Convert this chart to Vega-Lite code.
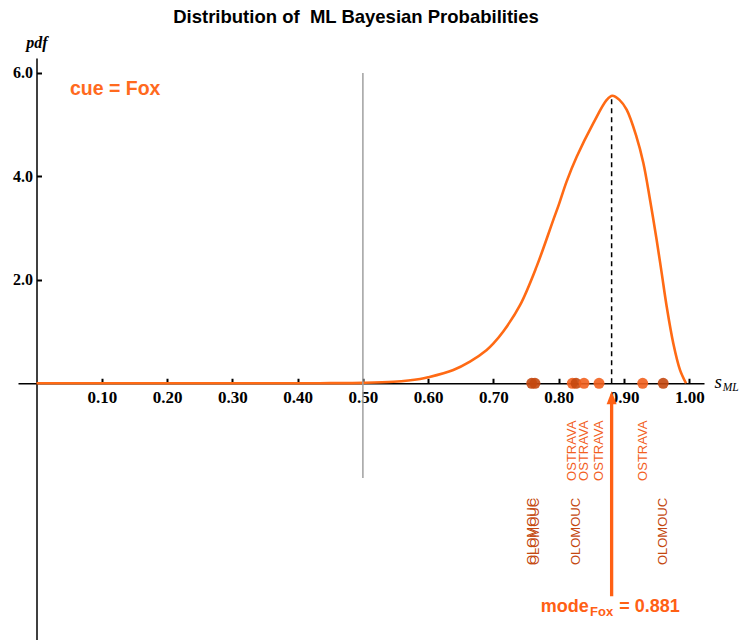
{
  "$schema": "https://vega.github.io/schema/vega-lite/v6.json",
  "autosize": "none",
  "width": 686,
  "height": 582,
  "padding": {"left": 18, "top": 58, "right": 42, "bottom": 0},
  "background": "white",
  "title": {
    "text": "Distribution of \u00a0ML Bayesian Probabilities",
    "font": "Liberation Sans",
    "fontSize": 18.5,
    "fontWeight": "bold",
    "color": "black",
    "anchor": "middle",
    "frame": "group",
    "dx": -5,
    "offset": 8
  },
  "config": {"view": {"stroke": null}},
  "data": {"values": [{}]},
  "datasets": {
    "pdf": [
      {"x": 0.0, "y": 0.0},
      {"x": 0.1, "y": 0.0},
      {"x": 0.2, "y": 0.0},
      {"x": 0.3, "y": 0.0},
      {"x": 0.4, "y": 0.0},
      {"x": 0.45, "y": 0.002},
      {"x": 0.5, "y": 0.008},
      {"x": 0.547, "y": 0.03},
      {"x": 0.5875, "y": 0.083},
      {"x": 0.6, "y": 0.116},
      {"x": 0.6385, "y": 0.257},
      {"x": 0.664, "y": 0.418},
      {"x": 0.6897, "y": 0.644},
      {"x": 0.7, "y": 0.77},
      {"x": 0.715, "y": 1.0},
      {"x": 0.7407, "y": 1.51},
      {"x": 0.7662, "y": 2.26},
      {"x": 0.7917, "y": 3.16},
      {"x": 0.8, "y": 3.45},
      {"x": 0.812, "y": 3.9},
      {"x": 0.8275, "y": 4.38},
      {"x": 0.853, "y": 5.03},
      {"x": 0.8735, "y": 5.48},
      {"x": 0.882, "y": 5.56},
      {"x": 0.893, "y": 5.48},
      {"x": 0.904, "y": 5.29},
      {"x": 0.919, "y": 4.77},
      {"x": 0.9296, "y": 4.26},
      {"x": 0.9398, "y": 3.55},
      {"x": 0.95, "y": 2.77},
      {"x": 0.9577, "y": 2.13},
      {"x": 0.9654, "y": 1.48},
      {"x": 0.9755, "y": 0.77},
      {"x": 0.9857, "y": 0.26},
      {"x": 0.995, "y": 0.0}
    ],
    "obs": [
      {"x": 0.7586, "city": "OLOMOUC"},
      {"x": 0.7636, "city": "OLOMOUC"},
      {"x": 0.8208, "city": "OSTRAVA"},
      {"x": 0.8265, "city": "OLOMOUC"},
      {"x": 0.8387, "city": "OSTRAVA"},
      {"x": 0.8617, "city": "OSTRAVA"},
      {"x": 0.9286, "city": "OSTRAVA"},
      {"x": 0.96, "city": "OLOMOUC"}
    ]
  },
  "layer": [
    {
      "data": {"name": "pdf"},
      "mark": {"type": "line", "color": "#ff6a14", "strokeWidth": 2.6, "interpolate": "catmull-rom"},
      "encoding": {
        "x": {
          "field": "x",
          "type": "quantitative",
          "scale": {"domain": [-0.0283, 1.0225], "nice": false, "zero": false},
          "axis": {
            "orient": "bottom",
            "offset": -256.75,
            "values": [0.1, 0.2, 0.3, 0.4, 0.5, 0.6, 0.7, 0.8, 0.9, 1.0],
            "format": ".2f",
            "title": null,
            "grid": false,
            "domainColor": "black",
            "domainWidth": 1.5,
            "tickColor": "black",
            "tickWidth": 2,
            "tickSize": -5,
            "labelPadding": 11,
            "labelFont": "Liberation Serif",
            "labelFontWeight": "bold",
            "labelFontSize": 17,
            "labelColor": "black",
            "labelFlush": false,
            "labelOverlap": false
          }
        },
        "y": {
          "field": "y",
          "type": "quantitative",
          "scale": {"domain": [-4.965, 6.29], "nice": false, "zero": false},
          "axis": {
            "orient": "left",
            "offset": -18.5,
            "values": [2, 4, 6],
            "format": ".1f",
            "title": "pdf",
            "titleAngle": 0,
            "titleX": 0,
            "titleY": -16,
            "titleAlign": "center",
            "titleBaseline": "middle",
            "titleFont": "Liberation Serif",
            "titleFontStyle": "italic",
            "titleFontWeight": "bold",
            "titleFontSize": 16,
            "titleColor": "black",
            "grid": false,
            "domainColor": "black",
            "domainWidth": 1.5,
            "tickColor": "black",
            "tickWidth": 2,
            "tickSize": -5,
            "labelPadding": 9,
            "labelFont": "Liberation Serif",
            "labelFontWeight": "bold",
            "labelFontSize": 16,
            "labelColor": "black"
          }
        }
      }
    },
    {
      "mark": {"type": "rule", "color": "#a0a0a0", "strokeWidth": 1.5},
      "encoding": {
        "x": {"datum": 0.5, "type": "quantitative", "scale": {"domain": [-0.0283, 1.0225], "nice": false, "zero": false}},
        "y": {"datum": -1.83, "type": "quantitative", "scale": {"domain": [-4.965, 6.29], "nice": false, "zero": false}},
        "y2": {"datum": 6.0}
      }
    },
    {
      "mark": {"type": "rule", "color": "black", "strokeWidth": 1.5, "strokeDash": [5, 4]},
      "encoding": {
        "x": {"datum": 0.881, "type": "quantitative", "scale": {"domain": [-0.0283, 1.0225], "nice": false, "zero": false}},
        "y": {"datum": 0, "type": "quantitative", "scale": {"domain": [-4.965, 6.29], "nice": false, "zero": false}},
        "y2": {"datum": 5.56}
      }
    },
    {
      "data": {"name": "obs"},
      "mark": {"type": "point", "filled": true, "size": 120, "opacity": 0.9},
      "encoding": {
        "x": {"field": "x", "type": "quantitative", "scale": {"domain": [-0.0283, 1.0225], "nice": false, "zero": false}, "axis": {"title": null}},
        "y": {"datum": 0, "type": "quantitative", "scale": {"domain": [-4.965, 6.29], "nice": false, "zero": false}},
        "color": {
          "field": "city",
          "type": "nominal",
          "scale": {"domain": ["OLOMOUC", "OSTRAVA"], "range": ["#c4480f", "#f2601e"]},
          "legend": null
        }
      }
    },
    {
      "data": {"name": "obs"},
      "transform": [{"filter": "datum.city === 'OSTRAVA'"}],
      "mark": {"type": "text", "angle": 270, "align": "center", "baseline": "middle", "font": "Liberation Sans", "fontSize": 13},
      "encoding": {
        "x": {"field": "x", "type": "quantitative", "scale": {"domain": [-0.0283, 1.0225], "nice": false, "zero": false}, "axis": {"title": null}},
        "y": {"datum": -1.306, "type": "quantitative", "scale": {"domain": [-4.965, 6.29], "nice": false, "zero": false}},
        "text": {"field": "city"},
        "color": {"field": "city", "type": "nominal", "legend": null}
      }
    },
    {
      "data": {"name": "obs"},
      "transform": [{"filter": "datum.city === 'OLOMOUC'"}],
      "mark": {"type": "text", "angle": 270, "align": "center", "baseline": "middle", "font": "Liberation Sans", "fontSize": 13},
      "encoding": {
        "x": {"field": "x", "type": "quantitative", "scale": {"domain": [-0.0283, 1.0225], "nice": false, "zero": false}, "axis": {"title": null}},
        "y": {"datum": -2.867, "type": "quantitative", "scale": {"domain": [-4.965, 6.29], "nice": false, "zero": false}},
        "text": {"field": "city"},
        "color": {"field": "city", "type": "nominal", "legend": null}
      }
    },
    {
      "mark": {"type": "rule", "color": "#ff6014", "strokeWidth": 3.3},
      "encoding": {
        "x": {"datum": 0.881, "type": "quantitative"},
        "y": {"datum": -4.12, "type": "quantitative"},
        "y2": {"datum": -0.33}
      }
    },
    {
      "mark": {"type": "point", "filled": true, "opacity": 1, "color": "#ff6014", "size": 100, "shape": "M0,-1.3L-1,1.3L1,1.3Z"},
      "encoding": {
        "x": {"datum": 0.881, "type": "quantitative"},
        "y": {"datum": -0.278, "type": "quantitative"}
      }
    },
    {
      "mark": {"type": "text", "text": "cue = Fox", "align": "left", "baseline": "middle", "font": "Liberation Sans", "fontSize": 19.5, "fontWeight": "bold", "color": "#ff6a1e"},
      "encoding": {
        "x": {"datum": 0.0513, "type": "quantitative"},
        "y": {"datum": 5.69, "type": "quantitative"}
      }
    },
    {
      "mark": {"type": "text", "text": "s", "align": "left", "baseline": "alphabetic", "font": "Liberation Serif", "fontSize": 19, "fontStyle": "italic", "color": "black"},
      "encoding": {
        "x": {"datum": 1.0385, "type": "quantitative"},
        "y": {"datum": -0.097, "type": "quantitative"}
      }
    },
    {
      "mark": {"type": "text", "text": "ML", "align": "left", "baseline": "alphabetic", "font": "Liberation Serif", "fontSize": 11.5, "fontStyle": "italic", "color": "black"},
      "encoding": {
        "x": {"datum": 1.0512, "type": "quantitative"},
        "y": {"datum": -0.143, "type": "quantitative"}
      }
    },
    {
      "mark": {"type": "text", "text": "mode", "align": "left", "baseline": "alphabetic", "font": "Liberation Sans", "fontSize": 18, "fontWeight": "bold", "color": "#ff6014"},
      "encoding": {
        "x": {"datum": 0.7724, "type": "quantitative"},
        "y": {"datum": -4.429, "type": "quantitative"}
      }
    },
    {
      "mark": {"type": "text", "text": "Fox", "align": "left", "baseline": "alphabetic", "font": "Liberation Sans", "fontSize": 13, "fontWeight": "bold", "color": "#ff6014"},
      "encoding": {
        "x": {"datum": 0.8479, "type": "quantitative"},
        "y": {"datum": -4.501, "type": "quantitative"}
      }
    },
    {
      "mark": {"type": "text", "text": "= 0.881", "align": "left", "baseline": "alphabetic", "font": "Liberation Sans", "fontSize": 18, "fontWeight": "bold", "color": "#ff6014"},
      "encoding": {
        "x": {"datum": 0.8928, "type": "quantitative"},
        "y": {"datum": -4.429, "type": "quantitative"}
      }
    }
  ]
}
